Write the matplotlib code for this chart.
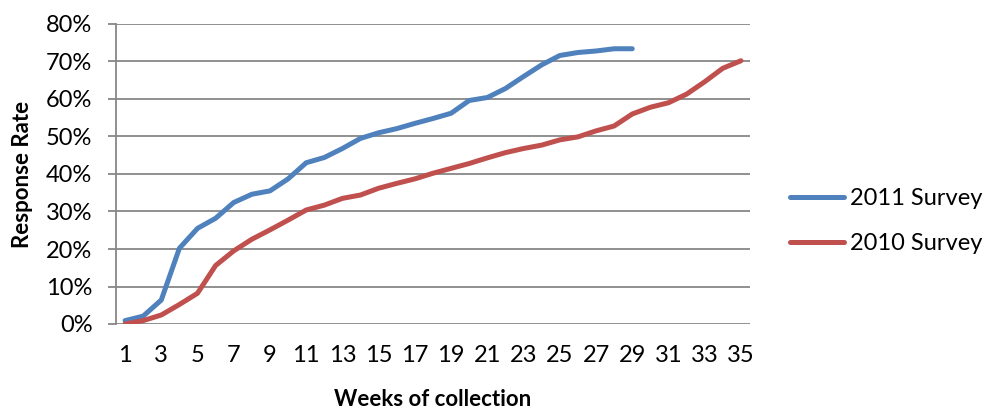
import numpy as np
import matplotlib.pyplot as plt

plt.rcParams['font.family'] = ['Lato', 'DejaVu Sans']
fontsize = 17

# cumulative response rate (%) per week of collection
weeks = np.arange(1, 36)
survey_2011 = [0.9, 2.1, 6.4, 20.2, 25.5, 28.2, 32.4, 34.6, 35.5, 38.7,
               43.0, 44.4, 46.8, 49.5, 51.0, 52.1, 53.5, 54.8, 56.2, 59.6,
               60.4, 62.8, 66.0, 69.1, 71.6, 72.4, 72.8, 73.4, 73.4]
survey_2010 = [0.0, 0.9, 2.4, 5.2, 8.2, 15.6, 19.5, 22.6, 25.1, 27.7,
               30.4, 31.7, 33.5, 34.4, 36.2, 37.5, 38.7, 40.2, 41.5, 42.8,
               44.3, 45.7, 46.8, 47.7, 49.1, 49.9, 51.5, 52.8, 56.0, 57.8,
               59.0, 61.3, 64.6, 68.2, 70.2]
series_names = ['2011 Survey', '2010 Survey']
series_colors = ['#4F81BD', '#C0504D']
yticks = np.arange(0, 81, 10)
xticks = np.arange(1, 36, 2)

fig = plt.figure(figsize=(9.84, 4.08), dpi=100)
ax = fig.add_axes([116/984, 1 - 324/408, 634/984, 300/408])

for vals, name, col in zip([survey_2011, survey_2010], series_names, series_colors):
    ax.plot(weeks[:len(vals)], vals, color=col, lw=3.6, label=name,
            solid_capstyle='round', solid_joinstyle='round', zorder=3)

grid_col = '#878787'
ax.set_xlim(0.5, 35.5)
ax.set_ylim(0, 80)
ax.set_yticks(yticks)
ax.set_yticklabels(['%d%%' % v for v in yticks], fontsize=fontsize)
ax.set_xticks(xticks)
ax.set_xticklabels([str(v) for v in xticks], fontsize=fontsize)
ax.yaxis.grid(True, color=grid_col, lw=1.3)
ax.set_axisbelow(True)
ax.tick_params(axis='y', length=6, width=1.3, color=grid_col, pad=11)
ax.tick_params(axis='x', length=0, pad=15)
for s in ['top', 'right', 'bottom']:
    ax.spines[s].set_visible(False)
ax.spines['left'].set_color(grid_col)
ax.spines['left'].set_linewidth(1.3)

ax.set_ylabel('Response Rate', fontsize=fontsize - 1, fontweight='bold')
ax.yaxis.set_label_coords(-0.131, 0.5)
ax.set_xlabel('Weeks of collection', fontsize=fontsize - 1, fontweight='bold')
ax.xaxis.set_label_coords(0.5, -0.215)

fig.legend(loc='center left', bbox_to_anchor=(790/984, 1 - 221/408),
           frameon=False, fontsize=fontsize, handlelength=2.3,
           handletextpad=0.25, labelspacing=1.0, borderpad=0, borderaxespad=0)

fig.savefig('out.png', dpi=100)
